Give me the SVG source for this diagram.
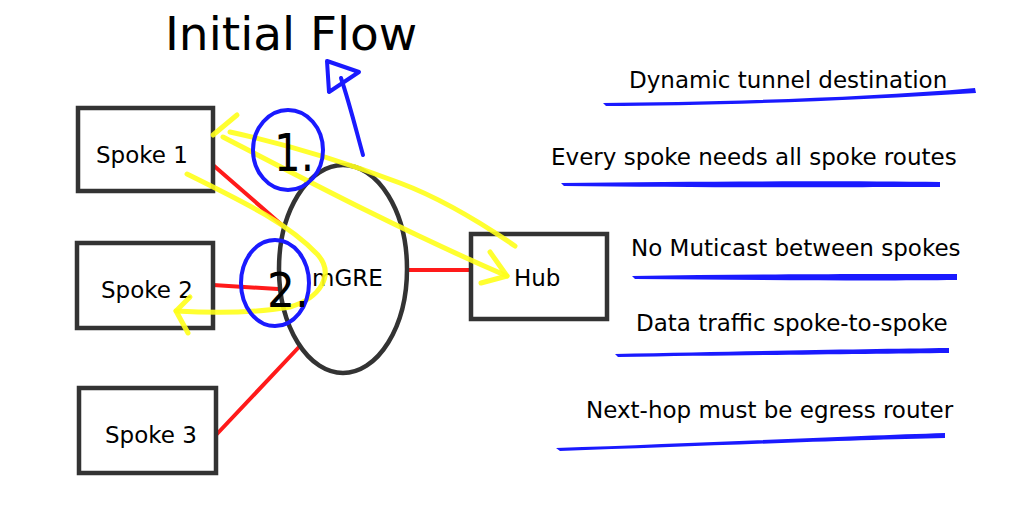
<svg xmlns="http://www.w3.org/2000/svg" width="1024" height="532" viewBox="0 0 1024 532">
<style>
.box{fill:#fff;stroke:#333;stroke-width:4.5}
.t{font-family:"DejaVu Sans",Verdana,sans-serif;fill:#000}
.n{font-size:23px}
.red{stroke:#ff1a1a;stroke-width:4;fill:none;stroke-linecap:round}
.yel{stroke:#ffff1a;stroke-width:5;fill:none;stroke-linecap:round;stroke-linejoin:round;opacity:0.9}
.blu{stroke:#1a1aff;stroke-width:4;fill:none;stroke-linecap:round;stroke-linejoin:round}
.ul{fill:#1a1aff}
</style>
<rect width="1024" height="532" fill="#fff"/>
<text class="t" x="165" y="50" font-size="47">Initial Flow</text>

<g id="connectors">
<line class="red" x1="213" y1="165" x2="283" y2="226"/>
<line class="red" x1="213" y1="285" x2="278" y2="289" stroke-width="5"/>
<line class="red" x1="216" y1="435" x2="299" y2="347"/>
<line class="red" x1="408" y1="270" x2="472" y2="270"/>
</g>

<g id="mgre">
<ellipse cx="343" cy="269" rx="64" ry="104" fill="none" stroke="#333" stroke-width="4.5"/>
<text class="t n" x="312" y="286">mGRE</text>
</g>

<g id="spoke1">
<rect class="box" x="78" y="108" width="135" height="83"/>
<text class="t n" x="96" y="163">Spoke 1</text>
</g>
<g id="spoke2">
<rect class="box" x="77" y="243" width="136" height="85"/>
<text class="t n" x="101" y="298">Spoke 2</text>
</g>
<g id="spoke3">
<rect class="box" x="79" y="388" width="137" height="85"/>
<text class="t n" x="105" y="443">Spoke 3</text>
</g>
<g id="hub">
<rect class="box" x="471" y="234" width="136" height="85"/>
<text class="t n" x="514" y="286">Hub</text>
</g>

<g id="annotations">
<path class="yel" d="M515 246 C480 222 440 198 400 183 C350 164 290 145 230 132"/>
<path class="yel" d="M213 135 L237 115"/>
<path class="yel" d="M223 137 C300 177 400 230 507 276"/>
<path class="yel" d="M507 276 L490 252 M507 276 L481 283"/>
<path class="yel" d="M187 174 C250 205 290 225 318 255 C335 275 320 298 290 307 C250 314 210 313 176 311"/>
<path class="yel" d="M176 311 L190 297 M176 311 L188 333"/>

<ellipse class="blu" cx="288" cy="150" rx="35" ry="40"/>
<ellipse class="blu" cx="275" cy="283" rx="34" ry="43"/>
<path class="blu" d="M363 155 C356 130 350 105 341 78"/>
<path class="blu" d="M327 61 L359 72 L329 92 Z"/>
<text class="t" x="274" y="171" font-size="52" textLength="40" lengthAdjust="spacingAndGlyphs">1.</text>
<text class="t" x="267" y="307" font-size="48" textLength="42" lengthAdjust="spacingAndGlyphs">2.</text>
</g>

<g id="notes">
<text class="t n" x="629" y="88">Dynamic tunnel destination</text>
<path class="ul" d="M603 103 C700 102 850 99 975 88 L976 93 C850 101 700 106 606 106 Z"/>
<text class="t n" x="551" y="165">Every spoke needs all spoke routes</text>
<path class="ul" d="M561 183 C700 181 850 181 940 182 L940 187 C850 187 700 188 564 186 Z"/>
<text class="t n" x="631" y="256">No Muticast between spokes</text>
<path class="ul" d="M632 276 C750 274 870 274 957 274 L957 280 C870 281 750 280 635 279 Z"/>
<text class="t n" x="636" y="331">Data traffic spoke-to-spoke</text>
<path class="ul" d="M615 354 C750 351 870 349 949 348 L949 353 C870 354 750 355 618 357 Z"/>
<text class="t n" x="586" y="418">Next-hop must be egress router</text>
<path class="ul" d="M556 448 C700 443 850 436 945 433 L945 438 C850 440 700 446 560 451 Z"/>
</g>
</svg>
